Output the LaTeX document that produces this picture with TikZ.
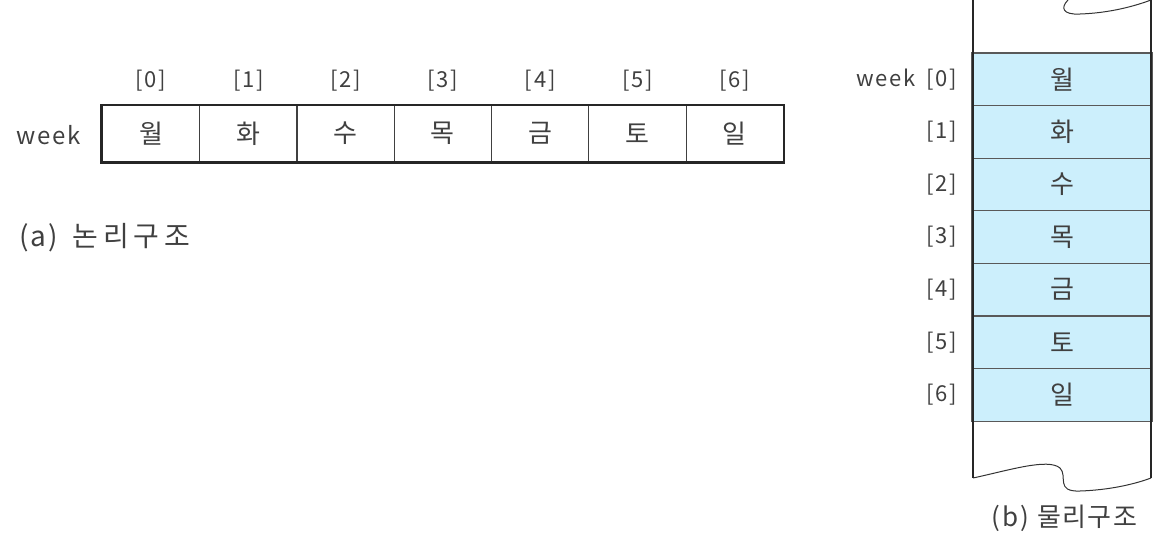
\documentclass[tikz,border=0pt]{standalone}
\usepackage{fontspec}
\setmainfont{Noto Sans CJK KR}[LetterSpace=8]
\newfontfamily\capafont{Noto Sans CJK KR}[LetterSpace=18]
\newfontfamily\capbfont{Noto Sans CJK KR}[LetterSpace=6]
\begin{document}
\begin{tikzpicture}[x=1pt,y=-1pt,
  txt/.style={text=black!75},
  cell/.style={draw=black!75,line width=1.2pt,minimum width=97.3pt,minimum height=56pt,inner sep=0pt,font=\fontsize{26}{28}\selectfont,txt},
  rowbox/.style={draw=black!65,line width=1.2pt,fill=cyan!20!white,minimum width=180pt,minimum height=52.6pt,inner sep=0pt,font=\fontsize{26}{28}\selectfont,txt},
  idx/.style={font=\fontsize{22}{24}\selectfont,txt,inner sep=0pt},
  captxt/.style={txt,inner sep=0pt},
  thick border/.style={line width=2.8pt,black!85}]
\useasboundingbox (0,0) rectangle (1172,538);
% (a) logical structure
\foreach \t [count=\i from 0] in {월,화,수,목,금,토,일}{
  \node[cell] (c\i) at (151+97.3*\i,133.5) {\t};
  \node[idx] (i\i) at (151+97.3*\i,81) {[\i]};
}
\draw[thick border] (c0.north west) rectangle (c6.south east);
\node[idx,font=\fontsize{24}{26}\selectfont,anchor=east] (wk) at (81,135) {week};
\node[captxt,font=\fontsize{28}{30}\selectfont,anchor=west] (capa) at (19,238) {(a)\hspace{14pt}{\capafont 논리구조}};
% (b) physical structure
\coordinate (tl) at (973,0);
\coordinate (tr) at (1151,0);
\coordinate (bl) at (973,478);
\coordinate (br) at (1151,478);
\foreach \t [count=\i from 0] in {월,화,수,목,금,토,일}{
  \node[rowbox] (r\i) at (1062,79.3+52.6*\i) {\t};
}
\node[idx,anchor=east] (w0) at ([xshift=-14pt]r0.west) {week\hspace{4pt} [0]};
\foreach \i in {1,...,6}{
  \node[idx,anchor=east] (w\i) at ([xshift=-14pt]r\i.west) {[\i]};
}
\coordinate (t0) at (1068,0);
\draw[black!80,line width=1pt] (t0) .. controls (1060,8) and (1063,15) .. (1080,14) .. controls (1110,13) and (1135,6) .. (tr);
\draw[black!80,line width=1pt] (bl) .. controls (1010,470) and (1048,458) .. (1060,468) .. controls (1068,476) and (1055,492) .. (1080,491) .. controls (1110,490) and (1135,484) .. (br);
\draw[thick border] (tl) -- (bl);
\draw[thick border] (tr) -- (br);
\node[captxt,font=\fontsize{26}{28}\selectfont,anchor=west] (capb) at (991,518) {(b)\hspace{8pt}{\capbfont 물리구조}};
\end{tikzpicture}
\end{document}
